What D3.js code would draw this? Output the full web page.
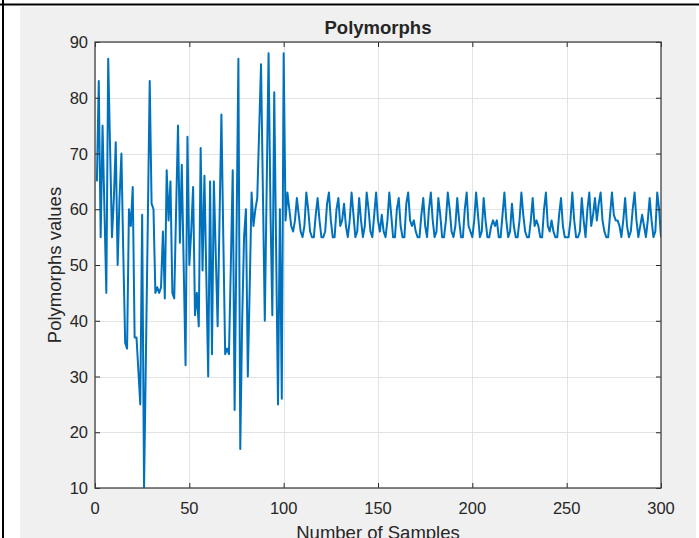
<!DOCTYPE html>
<html>
<head>
<meta charset="utf-8">
<script src="https://cdn.jsdelivr.net/npm/d3@7"></script>
<style>
  body { margin: 0; background: #fff; }
  text { font-family: "Liberation Sans", Arial, Helvetica, sans-serif; fill: #262626; }
</style>
</head>
<body>
<svg id="chart" width="699" height="538"></svg>
<script>
// tick labels
var xTicks = [0, 50, 100, 150, 200, 250, 300];
var yTicks = [10, 20, 30, 40, 50, 60, 70, 80, 90];

// samples 1..100 (unsettled part)
var early = [
  65, 83, 55, 75, 60, 45, 87, 71, 55, 62,
  72, 50, 62, 70, 52, 36, 35, 60, 57, 64,
  37, 37, 31, 25, 59, 10, 34, 58, 83, 61,
  60, 45, 46, 45, 46, 56, 44, 67, 58, 65,
  45, 44, 60, 75, 54, 68, 50, 32, 73, 50,
  56, 64, 41, 45, 39, 71, 49, 66, 48, 30,
  65, 34, 65, 52, 39, 58, 77, 55, 34, 35,
  34, 50, 67, 24, 55, 87, 17, 40, 55, 60,
  30, 46, 63, 57, 60, 62, 74, 86, 63, 40,
  64, 88, 60, 41, 81, 53, 25, 60, 26, 88
];

// samples 101..300 (steady part)
var late = [
  58, 63, 60, 57, 56, 58, 62, 59, 56, 55,
  57, 63, 60, 56, 55, 55, 59, 62, 58, 55,
  55, 56, 61, 63, 58, 55, 55, 60, 62, 57,
  58, 61, 57, 55, 58, 63, 59, 55, 56, 62,
  58, 55, 57, 63, 60, 56, 55, 59, 63, 58,
  56, 59, 56, 55, 58, 63, 59, 55, 55, 60,
  62, 57, 55, 55, 61, 63, 58, 57, 58, 56,
  55, 55, 59, 62, 57, 55, 60, 63, 58, 55,
  56, 62, 59, 55, 55, 58, 63, 60, 56, 55,
  57, 62, 58, 55, 55, 60, 63, 57, 56, 55,
  58, 63, 59, 55, 56, 62, 58, 55, 55, 57,
  58, 57, 58, 55, 55, 59, 63, 58, 55, 56,
  61, 57, 55, 55, 58, 63, 59, 56, 55, 55,
  58, 62, 57, 58, 57, 55, 55, 60, 63, 57,
  56, 58, 56, 55, 55, 59, 62, 57, 55, 55,
  55, 58, 63, 58, 55, 55, 56, 62, 58, 55,
  60, 63, 57, 59, 62, 58, 61, 63, 58, 56,
  55, 55, 59, 63, 59, 58, 58, 57, 55, 58,
  62, 57, 55, 56, 60, 63, 58, 55, 57, 59,
  57, 55, 58, 62, 58, 55, 56, 63, 60, 55
];

(function() {
  var values = early.concat(late);
  var data = values.map(function(v, i) { return { s: i + 1, v: v }; });

  var svg = d3.select("#chart");
  var pL = 95, pR = 661, pT = 42, pB = 488;

  var x = d3.scaleLinear().domain([0, 300]).range([pL, pR]);
  var y = d3.scaleLinear().domain([10, 90]).range([pB, pT]);

  // page frame and figure background
  svg.append("rect").attr("x", 20).attr("y", 7).attr("width", 676).attr("height", 531).attr("fill", "#f0f0f0");
  svg.append("line").attr("x1", 0).attr("x2", 699).attr("y1", 4.5).attr("y2", 4.5).attr("stroke", "#000").attr("stroke-width", 2);
  svg.append("line").attr("x1", 3).attr("x2", 3).attr("y1", 0).attr("y2", 538).attr("stroke", "#000").attr("stroke-width", 2);

  // plot area
  svg.append("rect").attr("x", pL).attr("y", pT).attr("width", pR - pL).attr("height", pB - pT).attr("fill", "#fff");

  // grid
  var grid = svg.append("g").attr("stroke", "#e3e3e3").attr("stroke-width", 1);
  grid.selectAll(".gx").data(xTicks).enter().append("line")
    .attr("x1", function(d) { return Math.round(x(d)) + 0.5; })
    .attr("x2", function(d) { return Math.round(x(d)) + 0.5; })
    .attr("y1", pT).attr("y2", pB);
  grid.selectAll(".gy").data(yTicks).enter().append("line")
    .attr("y1", function(d) { return Math.round(y(d)) + 0.5; })
    .attr("y2", function(d) { return Math.round(y(d)) + 0.5; })
    .attr("x1", pL).attr("x2", pR);

  // data line
  svg.append("clipPath").attr("id", "clip").append("rect")
    .attr("x", pL).attr("y", pT - 1).attr("width", pR - pL).attr("height", pB - pT + 1);

  var line = d3.line()
    .x(function(d) { return x(d.s); })
    .y(function(d) { return y(d.v); });

  svg.append("path")
    .datum(data)
    .attr("clip-path", "url(#clip)")
    .attr("fill", "none")
    .attr("stroke", "#0072BD")
    .attr("stroke-width", 2)
    .attr("stroke-linejoin", "round")
    .attr("d", line);

  // axes box with inward ticks
  function styleAxis(g) {
    g.select(".domain").remove();
    g.selectAll(".tick line").attr("stroke", "#262626");
    g.selectAll(".tick text").remove();
  }
  svg.append("g").attr("transform", "translate(0," + pB + ")")
    .call(d3.axisBottom(x).tickValues(xTicks).tickSize(-5)).call(styleAxis);
  svg.append("g").attr("transform", "translate(0," + pT + ")")
    .call(d3.axisTop(x).tickValues(xTicks).tickSize(-5)).call(styleAxis);
  svg.append("g").attr("transform", "translate(" + pL + ",0)")
    .call(d3.axisLeft(y).tickValues(yTicks).tickSize(-5)).call(styleAxis);
  svg.append("g").attr("transform", "translate(" + pR + ",0)")
    .call(d3.axisRight(y).tickValues(yTicks).tickSize(-5)).call(styleAxis);

  svg.append("rect").attr("x", pL).attr("y", pT).attr("width", pR - pL).attr("height", pB - pT)
    .attr("fill", "none").attr("stroke", "#444").attr("stroke-width", 1.3);

  // tick labels
  svg.selectAll(".xl").data(xTicks).enter().append("text")
    .attr("x", function(d) { return x(d); })
    .attr("y", 514)
    .attr("text-anchor", "middle")
    .style("font-size", "16.5px")
    .text(function(d) { return d; });

  svg.selectAll(".yl").data(yTicks).enter().append("text")
    .attr("x", 88)
    .attr("y", function(d) { return y(d) + 6; })
    .attr("text-anchor", "end")
    .style("font-size", "16.5px")
    .text(function(d) { return d; });

  // axis titles (x title is cut by the bottom edge, as in the picture)
  svg.append("text")
    .attr("x", (pL + pR) / 2).attr("y", 539)
    .attr("text-anchor", "middle")
    .style("font-size", "18.5px")
    .text("Number of Samples");

  svg.append("text")
    .attr("transform", "translate(61," + ((pT + pB) / 2) + ") rotate(-90)")
    .attr("text-anchor", "middle")
    .style("font-size", "18.5px")
    .text("Polymorphs values");

  svg.append("text")
    .attr("x", (pL + pR) / 2).attr("y", 34)
    .attr("text-anchor", "middle")
    .style("font-size", "18.5px")
    .style("font-weight", "bold")
    .text("Polymorphs");
})();
</script>
</body>
</html>
